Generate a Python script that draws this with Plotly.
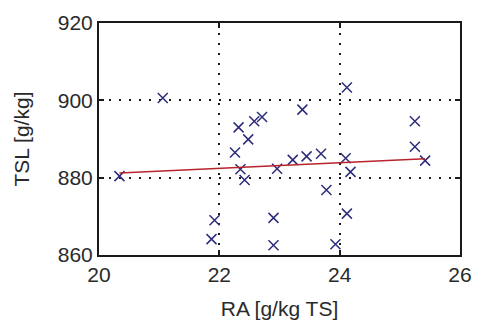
import plotly.graph_objects as go

# Measured samples: RA [g/kg TS] vs TSL [g/kg]
ra = [20.34, 21.06, 21.87, 21.92, 22.26, 22.32, 22.35, 22.42, 22.48, 22.58,
      22.71, 22.90, 22.90, 22.96, 23.22, 23.38, 23.45, 23.69, 23.78, 23.93,
      24.10, 24.12, 24.12, 24.18, 25.25, 25.25, 25.42]
tsl = [880.4, 900.6, 864.1, 869.0, 886.5, 893.0, 882.2, 879.4, 889.9, 894.6,
       895.7, 869.6, 862.5, 882.3, 884.6, 897.6, 885.5, 886.2, 876.8, 862.8,
       885.0, 903.3, 870.7, 881.5, 894.6, 888.0, 884.4]

# Linear fit end points
fit_x = [20.34, 25.42]
fit_y = [881.2, 884.9]

x_ticks = [20, 22, 24, 26]
y_ticks = [860, 880, 900, 920]

FONT = "Liberation Sans, Arial, sans-serif"
MARKER_COLOR = "#2c2c7a"

fig = go.Figure()
fig.add_trace(go.Scatter(
    x=ra, y=tsl, mode="markers",
    marker=dict(symbol="x-thin-open", size=10, color=MARKER_COLOR,
                line=dict(width=1.5, color=MARKER_COLOR)),
    showlegend=False,
))
fig.add_trace(go.Scatter(
    x=fit_x, y=fit_y, mode="lines",
    line=dict(color="#b8242c", width=1.6),
    showlegend=False,
))

axis_common = dict(
    showline=True, linecolor="#1a1a1a", linewidth=2, mirror="ticks",
    ticks="inside", ticklen=5, tickwidth=1.5, tickcolor="#1a1a1a",
    showgrid=True, gridcolor="#1a1a1a", gridwidth=1.5, griddash="2px,8px",
    zeroline=False,
    tickfont=dict(family=FONT, size=21, color="#2a2a2a"),
    title_font=dict(family=FONT, size=21, color="#2a2a2a"),
)

fig.update_xaxes(
    range=[20, 26], tickvals=x_ticks, ticktext=[str(v) for v in x_ticks],
    title_text="RA [g/kg TS]", title_standoff=16, **axis_common,
)
fig.update_yaxes(
    range=[860, 920], tickvals=y_ticks, ticktext=[str(v) for v in y_ticks],
    title_text="TSL [g/kg]", title_standoff=22, **axis_common,
)

fig.update_layout(
    width=483, height=328,
    margin=dict(l=99, r=11, t=21, b=71),
    paper_bgcolor="white", plot_bgcolor="white",
)

fig.write_html("out.html")
